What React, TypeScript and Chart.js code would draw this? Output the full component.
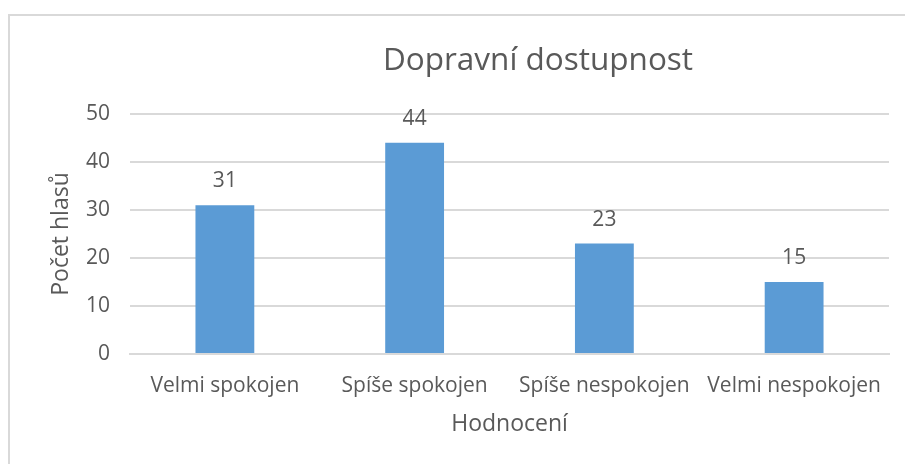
import React, { useEffect, useRef } from "react";
import { Chart, registerables } from "chart.js";

Chart.register(...registerables);

const categories = ["Velmi spokojen", "Spíše spokojen", "Spíše nespokojen", "Velmi nespokojen"];
const votes = [31, 44, 23, 15];
const yTicks = [0, 10, 20, 30, 40, 50];
const chartTitle = "Dopravní dostupnost";
const yTitle = "Počet hlasů";
const xTitle = "Hodnocení";

const FONT = "'Open Sans', 'Noto Sans', sans-serif";
const TEXT = "#595959";

export default function App() {
  const ref = useRef<HTMLCanvasElement>(null);

  useEffect(() => {
    if (!ref.current) return;
    const decor = {
      id: "decor",
      beforeDraw(chart: any) {
        const ctx = chart.ctx;
        ctx.save();
        ctx.fillStyle = "#ffffff";
        ctx.fillRect(0, 0, chart.width, chart.height);
        ctx.strokeStyle = "#d9d9d9";
        ctx.lineWidth = 2;
        ctx.strokeRect(9, 15, 1200, 1200);
        ctx.fillStyle = TEXT;
        ctx.font = `31.5px ${FONT}`;
        ctx.textAlign = "center";
        ctx.textBaseline = "middle";
        ctx.fillText(chartTitle, 538, 61);
        ctx.restore();
      },
      afterDatasetsDraw(chart: any) {
        const ctx = chart.ctx;
        const meta = chart.getDatasetMeta(0);
        ctx.save();
        ctx.fillStyle = TEXT;
        ctx.font = `21px ${FONT}`;
        ctx.textAlign = "center";
        ctx.textBaseline = "middle";
        meta.data.forEach((el: any, i: number) => {
          ctx.fillText(String(votes[i]), el.x, el.y - 24);
        });
        ctx.restore();
      },
    };

    const chart = new Chart(ref.current, {
      type: "bar",
      data: {
        labels: categories,
        datasets: [
          {
            data: votes,
            backgroundColor: "#5B9BD5",
            categoryPercentage: 1,
            barPercentage: 0.31,
          },
        ],
      },
      options: {
        responsive: false,
        animation: false,
        layout: { padding: { top: 114, left: 0, right: 16, bottom: 0 } },
        plugins: {
          legend: { display: false },
          tooltip: { enabled: false },
          title: { display: false },
        },
        scales: {
          x: {
            afterFit: (s: any) => {
              s.height = 110;
            },
            grid: { display: false, drawTicks: false },
            border: { display: true, color: "#d9d9d9", width: 2 },
            ticks: {
              padding: 19,
              color: TEXT,
              font: { family: FONT, size: 21 },
              maxRotation: 0,
              autoSkip: false,
            },
            title: {
              display: true,
              text: xTitle,
              color: TEXT,
              font: { family: FONT, size: 23 },
              padding: { top: 0, bottom: 26 },
            },
          },
          y: {
            min: 0,
            max: 50,
            afterFit: (s: any) => {
              s.width = 130;
            },
            afterBuildTicks: (s: any) => {
              s.ticks = yTicks.map((v) => ({ value: v }));
            },
            grid: { color: "#d9d9d9", lineWidth: 2, drawTicks: false },
            border: { display: false },
            ticks: {
              padding: 20,
              color: TEXT,
              font: { family: FONT, size: 21 },
            },
            title: {
              display: true,
              text: yTitle,
              color: TEXT,
              font: { family: FONT, size: 23 },
              padding: { top: 48, bottom: 0 },
            },
          },
        },
      },
      plugins: [decor],
    });
    return () => chart.destroy();
  }, []);

  return (
    <div style={{ position: "fixed", left: 0, top: 0, width: 905, height: 464 }}>
      <canvas ref={ref} width={905} height={464} style={{ width: 905, height: 464 }} />
    </div>
  );
}
